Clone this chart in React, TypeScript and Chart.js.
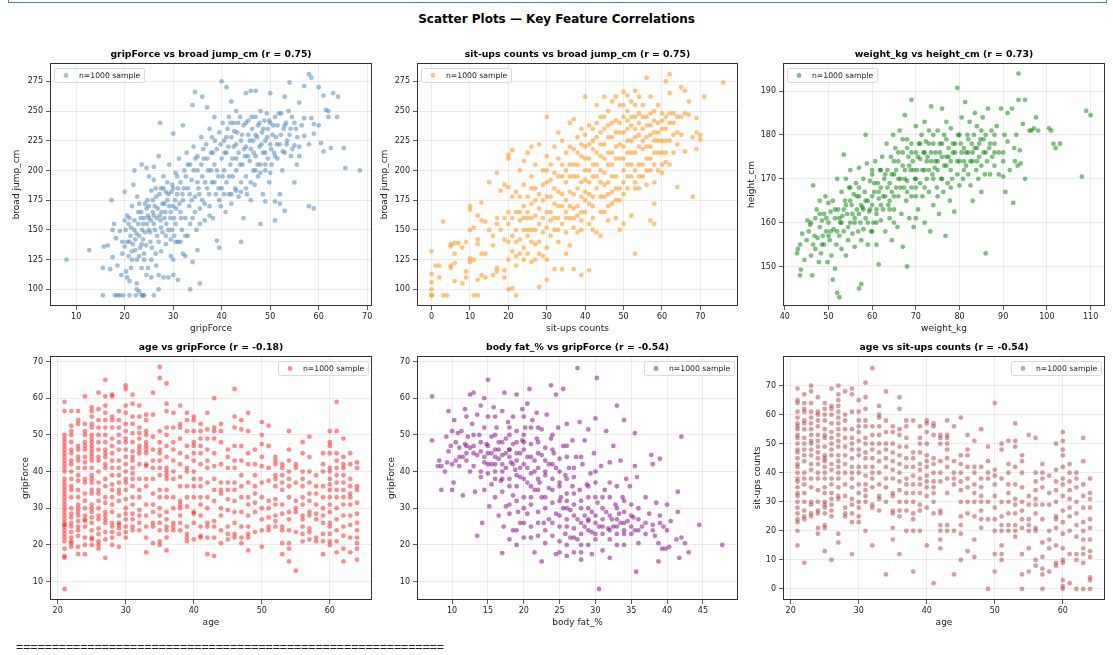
import React, { useEffect, useRef } from 'react';
import { Chart, registerables } from 'chart.js';

Chart.register(...registerables);
Chart.defaults.font.family = "'DejaVu Sans', sans-serif";

// ---- data (a sample of the 1000 points) ----

// gripForce vs broad jump_cm
const gripJump: [number, number][] = [
  [8,125],[12.7,133],[15.5,95],[15.5,118],[15.7,136],[16.5,137],[17,117],[17.3,175],[17.5,150],[17.5,127],[17.8,155],[18,95],[18.5,95],[19,95],[19.7,95],[21,95],[22.3,95],[23.5,95],[24,95],[23.8,95],[26,95],
  [18.2,143],[18.5,120],[19,149],[19.3,112],[19.5,130],[20,182],[20,158],[20,136],[20.3,115],[20.5,110],[21,107],[21.3,118],[20.8,155],[21,160],[21.2,145],[21.5,132],[21.8,188],[22,200],[22,150],[22.2,142],[22.5,105],[22.5,100],[23,98],[22.8,165],[23,128],[23,172],[23.3,160],[23.5,205],[23.5,138],[23.8,155],[24,130],[24,125],[24.2,148],[24.5,202],[24.5,168],[24.7,175],[24.8,118],
  [25,195],[25,150],[25,160],[25.3,140],[25.5,183],[25.5,110],[25.8,165],[26,192],[26,203],[26,155],[26.2,170],[26.4,130],[26.5,178],[26.7,145],[27,212],[27.3,240],[27,112],[27,100],[27.2,162],[27.5,185],[27.5,152],[27.8,172],[28,110],[28,195],[28.2,160],[28.5,138],[28.5,182],[28.8,175],[29,110],[29,150],[29.2,205],[29.5,165],[29.5,128],[29.8,188],
  [30,231],[30,112],[30,125],[30,170],[30.2,145],[30.5,198],[30.5,155],[30.8,180],[31,140],[31,108],[31.2,210],[31.5,165],[31.5,190],[31.8,150],[32,238],[32,130],[32,175],[32.3,200],[32.5,128],[32.5,160],[32.8,215],[33,185],[33,145],[33.3,170],[33.5,100],[33.5,205],[33.8,192],[34,123],[34,255],[34,160],[34.2,220],[34.5,266],[34.5,178],[34.8,150],
  [35,133],[35,200],[35,212],[35.2,185],[35.5,105],[35.5,168],[35.8,228],[36,262],[36,195],[36,175],[36.3,210],[36.5,158],[36.8,222],[37,253],[37,185],[37.2,200],[37.5,170],[37.5,235],[37.8,215],[38,190],[38,228],[38.2,160],[38.5,205],[38.5,245],[38.8,180],[39,141],[39,218],[39.3,195],[39.5,135],[39.5,232],[39.8,170],
  [40,275],[40,210],[40,185],[40.2,240],[40.5,200],[40.5,225],[40.8,165],[41,270],[41,190],[41,215],[41.2,235],[41.5,180],[41.5,245],[41.8,205],[42,258],[42,228],[42,172],[42.3,195],[42.5,220],[42.5,240],[42.8,185],[43,250],[43,210],[43,200],[43.2,232],[43.5,178],[43.5,215],[43.8,245],[44,140],[44,225],[44,190],[44.3,205],[44.5,238],[44.5,160],[44.8,212],
  [45,265],[45,220],[45,195],[45.2,180],[45.5,230],[45.5,242],[45.8,208],[46,267],[46,175],[46,218],[46.3,235],[46.5,200],[46.5,225],[46.8,188],[47,267],[47,245],[47,212],[47.3,228],[47.5,195],[47.5,238],[47.8,220],[48,155],[48,250],[48,205],[48.3,232],[48.5,215],[48.5,180],[48.8,242],[49,174],[49,225],[49,200],[49.3,248],[49.5,210],[49.5,235],[49.8,190],
  [50,265],[50,222],[50,240],[50.3,205],[50.5,230],[50.8,215],[51,158],[51,174],[51,245],[51.2,228],[51.5,210],[51.5,238],[52,172],[52,180],[52,222],[52.3,248],[52.5,200],[52.8,235],[53,262],[53,166],[53,215],[53.3,240],[53.5,225],[54,274],[54,230],[54.3,212],[54.5,245],
  [55,190],[55,221],[55.3,235],[55.5,205],[56,257],[56,212],[56.5,238],[57,271],[57,244],[57,229],[58,281],[58.5,278],[58,170],[59,168],[58.5,244],[59,231],[59,239],[58,222],[60,270],[60,238],[60.5,223],[61,216],[61,263],[61.5,251],[62,250],[62,245],[62.5,219],[63,265],[64,262],[63.8,245],[65.2,219],[65.5,202],[68.5,200],
  [19.5,140],[20.2,150],[20.5,162],[20.8,128],[21,140],[21.3,152],[21.5,170],[21.7,138],[22,158],[22.2,133],[22.4,147],[22.6,178],[22.8,155],[23,145],[23.2,135],[23.4,165],[23.6,150],[23.8,142],[24,160],[24.2,172],[24.4,137],[24.6,155],[24.8,162],[25,170],[25.2,148],[25.4,158],[25.6,135],[25.8,175],
  [26,162],[26.2,150],[26.4,185],[26.6,160],[26.8,168],[27,140],[27.2,180],[27.4,158],[27.6,165],[27.8,148],[28,185],[28.2,172],[28.4,165],[28.6,155],[28.8,190],[29,180],[29.2,170],[29.4,160],[29.6,182],[29.8,150],[30,185],[30.2,160],[30.4,175],[30.6,168],[30.8,195],[31,185],[31.3,172],[31.6,160],[31.9,180],
  [32.2,185],[32.6,195],[33,205],[33.4,180],[33.8,175],[34.2,200],[34.6,210],[35,190],[35.4,180],[35.8,205],[36.2,218],[36.6,190],[37,210],[37.4,180],[37.8,200],[38.2,215],[38.6,225],[39,200],[39.4,185],[39.8,222],[40.2,195],[40.6,215],[41,228],
  [41.4,220],[41.8,240],[42.2,210],[42.6,233],[43,222],[43.4,240],[43.8,205],[44.2,230],[44.6,218],[45,240],[45.4,212],[45.8,225],[46.2,245],[46.6,215],[47,230],[47.4,205],[47.8,240],[48.2,222],[48.6,235],[49,215],[49.4,228],[49.8,242],[50.2,218],[50.6,238],[51,212],[51.4,222],[51.8,248],[52.2,230],
  [52.6,216],[53,238],[53.4,222],[53.8,250],[54.2,235],[54.6,218],[55,240],[55.6,228],[56,220],[45,185],[44,182],[43,183],[42,180],[46,190],[47,200],[48,198],[49,205],[50,198],[41.5,195],[40.5,180],[39.5,175],[38.5,190],[37.5,162],[36.5,172],[35.5,155],[34.5,165],[33.5,155],[32.5,145],
  [31.5,140],[30.5,140],[29.5,142],[28.5,145],[27.5,132],[26.5,120],[25.5,125],[24.5,112],[23.5,118],[22.5,125],[21.5,125],[20.5,140],
];

// sit-ups counts vs broad jump_cm
const situpsJump: [number, number][] = [
  [0,95],[0,95],[0,100],[0,106],[0,113],[0,132],[1,120],[2,120],[2,110],[3,157],[3,95],[4,95],[5,136],[5,138],[5,118],[5,120],[6,139],[6,130],[6,122],[6,107],[7,139],[8,105],[8,135],[9,110],[9,115],[9,140],[10,170],[10,167],[10,150],[10,126],[10,123],
  [11,152],[11,125],[11,95],[12,95],[12,142],[12,138],[12,108],[12,162],[13,173],[13,158],[13,130],[13,112],[14,157],[14,110],[15,190],[15,150],[16,137],[16,112],[17,198],[17,160],[17,155],[17,118],[17,115],[18,183],[19,188],[19,142],[19,116],[19,110],
  [20,210],[20,213],[20,186],[20,155],[20,140],[20,125],[20,100],[21,217],[21,178],[21,160],[21,132],[21,101],[22,182],[22,150],[22,128],[22,120],[22,95],[23,200],[23,165],[23,142],[23,158],[24,208],[24,188],[24,170],[24,135],[24,125],[25,215],[25,178],[25,160],[25,145],[25,130],
  [26,220],[26,195],[26,172],[26,150],[26,123],[27,205],[27,185],[27,162],[27,138],[27,125],[28,222],[28,180],[28,155],[28,102],[29,200],[29,175],[29,148],[29,128],[30,245],[30,212],[30,190],[30,165],[30,152],[30,135],[30,108],[31,205],[31,178],[31,158],
  [32,220],[32,198],[32,172],[32,150],[32,117],[33,232],[33,210],[33,182],[33,160],[33,140],[34,225],[34,195],[34,170],[34,155],[34,117],[35,215],[35,190],[35,175],[35,148],[35,130],[36,240],[36,205],[36,182],[36,160],[36,137],[37,243],[37,218],[37,195],[37,168],[37,152],[37,117],
  [38,228],[38,205],[38,185],[38,162],[38,148],[39,235],[39,212],[39,178],[39,158],[39,112],[40,262],[40,220],[40,200],[40,182],[40,165],[41,238],[41,210],[41,190],[41,172],[41,155],[41,116],[42,235],[42,218],[42,195],[42,170],[42,160],[43,255],[43,228],[43,205],[43,185],[43,148],
  [44,245],[44,222],[44,200],[44,178],[44,145],[45,262],[45,235],[45,210],[45,188],[45,165],[46,250],[46,228],[46,205],[46,180],[46,158],[47,258],[47,240],[47,215],[47,195],[47,172],[48,262],[48,232],[48,210],[48,185],[48,160],[49,255],[49,240],[49,222],[49,150],[49,175],
  [50,266],[50,245],[50,220],[50,200],[50,180],[50,155],[51,263],[51,242],[51,225],[51,205],[51,185],[52,258],[52,238],[52,215],[52,195],[52,162],[53,267],[53,245],[53,228],[53,200],[53,185],[53,130],[54,262],[54,240],[54,220],[54,205],[54,185],[55,255],[55,235],[55,218],[55,195],
  [56,278],[56,245],[56,228],[56,210],[56,188],[57,262],[57,238],[57,220],[57,200],[57,158],[58,250],[58,232],[58,215],[58,190],[58,155],[58,172],[59,255],[59,240],[59,225],[59,200],[60,248],[60,235],[60,215],[60,198],[61,275],[61,245],[61,225],[61,207],[62,281],[62,265],[62,240],[62,205],
  [63,248],[63,230],[63,215],[64,245],[64,186],[64,222],[65,270],[65,245],[65,230],[66,267],[66,216],[66,248],[67,258],[67,247],[68,178],[68,228],[69,244],[69,218],[69,232],[70,230],[70,226],[71,262],[76,274],
  [22,165],[23,178],[24,150],[25,165],[26,185],[27,150],[27,175],[28,140],[28,168],[29,160],[29,188],[30,178],[30,200],[31,165],[31,192],[32,160],[32,185],[33,170],[33,195],[34,180],[34,205],[35,160],[35,200],[36,170],[36,195],[36,220],[37,180],[37,205],[38,170],[38,195],[38,215],
  [39,165],[39,190],[39,222],[40,175],[40,192],[40,210],[40,230],[41,180],[41,200],[41,222],[42,178],[42,205],[42,225],[43,195],[43,215],[43,240],[44,190],[44,212],[44,232],[45,178],[45,198],[45,222],[45,245],[46,190],[46,215],[46,238],[47,182],[47,205],[47,228],[48,195],[48,220],[48,242],
  [49,185],[49,210],[49,232],[50,190],[50,210],[50,232],[50,255],[51,195],[51,215],[51,235],[51,250],[52,205],[52,225],[52,245],[53,190],[53,215],[53,235],[53,255],[54,195],[54,230],[54,248],[55,205],[55,225],[55,245],[56,200],[56,220],[56,238],[57,210],[57,230],[57,248],[58,205],[58,225],
  [58,242],[59,215],[59,232],[60,205],[60,225],[60,242],[61,215],[61,235],[62,225],[62,248],[63,240],[64,232],[26,160],[25,150],[24,160],[23,130],[22,140],[21,145],[20,165],[19,160],[18,150],[16,145],[14,130],[44,165],[42,150],[46,170],[48,175],[39,150],[37,160],[35,165],[33,150],
  [31,145],[30,125],[28,130],[26,140],
];

// weight_kg vs height_cm
const weightHeight: [number, number][] = [
  [42.8,153],[43,154],[43.5,155],[43.5,148],[43.7,149.3],[44,157.5],[44.5,151.5],[45,156],[45.2,160.5],[45.5,158],[45.8,159.5],[46,152.5],[46.3,148],[46.5,168.5],[46.5,155],[46.8,157],[47,154],[47,161],[47.3,163],[47.5,156.5],[47.8,151],[48,165],[48,159],[48.3,153],[48.5,160.5],[48.7,157],[49,162],[49,155],[49.3,166],[49.5,158],[49.8,151],
  [50,164.5],[50,160],[50.3,156],[50.5,162.5],[50.7,152.5],[51,147],[51,165],[51.2,158.5],[51.5,161],[51.5,149.5],[51.8,155],[52,144],[52.5,143],[52,170],[52.2,163],[52.5,157],[52.7,160],[53,167],[53,154],[53.2,161.5],[53.5,175.5],[53.5,158],[53.8,165],[54,170],[54,152.5],[54.3,162],[54.5,156],[54.7,168],
  [55,160],[55,172],[55.3,164],[55.5,157.5],[55.8,166.5],[56,161],[56,154.5],[56.3,169],[56.5,163],[56.8,158],[57,145],[57.5,146],[57,172.5],[57,166],[57.3,160],[57.5,156],[57.8,163.5],[58,170],[58,158.5],[58.3,167],[58.5,180],[58.5,161],[58.8,173.5],[59,165],[59,155],[59.3,162.5],[59.5,169.5],[59.8,158],
  [60,171],[60,164],[60.3,160],[60.5,167],[60.7,174],[61,162],[61,155],[61.3,169],[61.5,150.5],[61.5,165.5],[61.8,172],[62,160.5],[62,168],[62.3,175],[62.5,163],[62.8,170],[63,166],[63,158],[63.3,178],[63.5,172],[63.7,164],[64,169],[64,161],[64.3,175],[64.5,156],[64.5,167],[64.8,180],
  [65,171],[65,163],[65.3,177],[65.5,168],[65.8,159],[66,174],[66,166],[66.3,181],[66.5,170],[66.7,162],[67,176],[67,154.5],[67.3,168],[67.5,184.5],[67.5,172],[67.8,165],[68,150],[68,179],[68,169.5],[68.3,175],[68.5,161],[68.8,172],[69,188],[69,178],[69,166],[69.3,174],[69.5,159],[69.8,170],
  [70,182],[70,176],[70,168],[70.3,172],[70.5,163],[70.7,178],[71,174.5],[71,169],[71.3,180],[71.5,166],[71.8,176],[72,172],[72,160],[72.3,178.5],[72.5,170],[72.7,175],[73,167],[73,181],[73.3,158],[73.5,186.5],[73.5,174],[73.8,171],[74,178],[74,164],[74.3,172.5],[74.5,176],[74.8,168],
  [75,181],[75,174],[75.3,162],[75.5,178],[75.8,170],[76,186],[76,175],[76.3,167],[76.5,180],[76.8,157],[77,173],[77,183],[77.3,169],[77.5,177],[77.8,165],[78,181.5],[78,174],[78.3,170],[78.5,178],[78.8,162.5],[79,176],[79.5,190.7],[79.5,171],[79.7,180],
  [80,168.5],[80,174],[80.3,178],[80.5,184],[80.8,170],[81,177],[81.3,187.5],[81.5,173],[81.8,180],[82,171],[82,176],[82.3,183],[82.5,168.5],[82.8,178],[83,165],[83,174],[83.3,180],[83.5,185],[83.8,172],[84,177],[84,182],[84.3,170],[84.5,175],[84.8,179],
  [85,167],[85,173],[85.3,184],[85.5,176],[85.8,171],[86,153],[86,180],[86.3,174],[86.5,186],[86.8,177],[87,171],[87.3,181],[87.5,175],[88,178],[88,173],[88.5,182],[89,176],[89,171],[89.5,186],[90,174],[90,170.5],[90.3,180],[90.5,167],[91,178.5],[91,185],[91.5,172],[92,186],[92.3,164.5],[92.5,177],[92.7,174],
  [93,180],[93.3,173],[93.5,194],[93.5,188],[93.8,176.5],[94,173.5],[94.5,182.5],[95,188],[95,170],[96,181],[96.5,181],[97,181.5],[97.5,184],[98,181],[100.5,181.5],[101,181],[101.5,178],[102,177],[103,178],[108,170.5],[109,185.5],[110,184.5],
  [48.5,155],[49.5,161],[50.5,158],[51.5,163],[52.5,161],[53.5,163],[54.5,159],[55.5,162],[56.5,166],[57.5,164],[58.5,165],[59.5,163],[60.5,169],[61.5,167],[62.5,166],[63.5,168],[64.5,171],[65.5,172],[66.5,168],[67.5,170],[68.5,173],[69.5,172],[70.5,175],[71.5,172],[72.5,174],
  [73.5,176],[74.5,174],[75.5,176],[76.5,173],[77.5,175],[78.5,176],[79.5,174],[80.5,176],[81.5,176],[82.5,174],[83.5,177],[84.5,178],[85.5,179],[60,166],[62,164],[64,165],[66,170],[68,167],[70,170],[72,176],[74,170],[76,178],[78,172],[80,180],[82,179],[84,174],[86,176],[88,176],
  [55,165],[57,168],[59,160],[61,160],[63,171],[65,174],[67,173],[69,176],[71,178],[73,178],[75,172],[77,179],[79,178],[81,174],[83,176],[85,181],[87,178],[58,163],[60,158],[62,172],[64,163],[66,176],[68,177],[70,166],[72,168],[74,180],[76,170],[78,168],[52,158],[54,164],[56,160],
  [50,157],[48,162],[46,160],[53,160],[57,162],[61,163],[65,166],[69,168],[73,172],[77,175],[81,172],[65,160],[70,161],[75,166],[60,172],[55,168],[67,179],[72,183],[90,176],[88,180],
];

// age vs gripForce: age -> gripForce values at that age
const ageGrip: [number, number[]][] = [
  [21, [8,16.5,17,19,21,22,23,24,25,25.5,26,27,28,29,30,31,32,33,34,35,36,37,38,40,41,42,43,44,45,46,47,48,49,50,56.5,59]],
  [22, [19.5,20.5,21,22,23.5,25,26,27.5,28.5,30,33,35,36,38,40,42,43,45,46,48,50,51,52.5,56.5]],
  [23, [17.5,19.5,22.5,24,25,26.5,28,29,30,31,33,35,37.5,39,41,43,44,46,47,53,54,56.5]],
  [24, [17.5,20,22,25,26.5,27,28,30,32,34,37,38,41,42.5,44,46,47,48,50,51,53,60.5]],
  [25, [20,21.5,22,24,26,27.5,29,30,31,34,35,37,38,39,41,43,44,45,46,47,48,49,50,52,53,55,56.5,57.5]],
  [26, [19,20,21,23,24.5,27,28,30,32,34,35,37,40,43,44,46,48,50,52,54,57,61.5]],
  [27, [16.5,21.5,23.5,26,27,28,29,31.5,33,36,38,41,42,44,45,46,48,50,52,54,56,58,60.5,65]],
  [28, [20,22,23.5,25,26,29,31,33,35,36.5,39,41,43,45,47,49,52,54,55,60.5,61]],
  [29, [19.5,23,24.5,25.5,26,28,32,34,35,37,39,41,43,46,48,50,52,54,56.5]],
  [30, [22,23.5,25,27,28.5,30,32.5,35,37,38,40,42,44,46,48,49,51,53,56,58,62.5,63.5]],
  [31, [24,25,27,28.5,31,33,36,38,39.5,41,43,44,45.5,48,50.5,53,55,58.5,61]],
  [32, [24,26,28,29.5,33,35,38,42,45,46,47,49,50.5,52,55,58]],
  [33, [18,22,25,28,31,36,38,41.5,42,45,46,47,48,50,51,54,55.5]],
  [34, [20.5,25,26,29,31,34,38,41,43,46,49.5,55.5,61.5]],
  [35, [20,21,24,26,28,30,33,35,39,41,43,45,46,48,51,65.5,68.5]],
  [36, [18.5,22,24,25,27,29,33,35,38,39,40,41,44,47,50,52,56.5,58.5,64]],
  [37, [24,25,26,30,33,38,40,43,46,48,52,56]],
  [38, [24,26,28,30,31,32,36,38.5,42,45,49,52,53,58]],
  [39, [21,22,23,25,30.5,33,36,40,41,44,47,51,54,56]],
  [40, [21.5,26,28.5,29,33,36,38,40,43,45,47,48,51,54,55]],
  [41, [22,22.5,25,28,31,33,36,38,42,45,47,49,51,53]],
  [42, [17.5,22,25,26,30,33,37,41,43,46,49,51.5,56]],
  [43, [17,22,25,26.5,32,35,38,41.5,45,49,51,52,60]],
  [44, [20.5,24,28,30,34,35,37,42,48,51,53]],
  [45, [21.5,23,25,29.5,32.5,35,37,41,44,46]],
  [46, [22,23,26,29,32,35,37,41,43,47,52,55,62.5]],
  [47, [20.5,22,25,29,33,36,39,43,47,51.5,54]],
  [48, [18.5,22,23,25,28,31,33,37,42,45,51,56]],
  [49, [23.5,29,31.5,34,36,39,42,46]],
  [50, [19.5,24,27,30,33,37,41.5,44,47.5,50,53.5]],
  [51, [24,25,27.5,30,32,37.5,41,47,52.5]],
  [52, [25,26.5,28,31,32.5,36,38,39,42,43,44]],
  [53, [17.5,20.5,24,25,28.5,31,35,37,39,41,42]],
  [54, [15.5,19,20.5,24,27,29,33,36,38,40,43,46,51]],
  [55, [13,23.5,29,30,32,37,41,42]],
  [56, [21,23,25,27,28,31,33,36,38,40,45,48]],
  [57, [21.5,23.5,24.5,28,29,32,34,37,40,44,49.5]],
  [58, [21,22,27,28.5,31,34,36,39]],
  [59, [17.5,21,23,26,28,30,33,36,40,42,45]],
  [60, [20,21,23,25,26,29,31,33,35,36.5,38,40,41,45,47,48,51]],
  [61, [18,21,24,27,30,33,35,37,39,41,43,45,51,59]],
  [62, [15.5,19,22.5,25,28,31,33,35,37,39,41,42,44,49]],
  [63, [18,22,25.5,28,31,33,34,36,38,42,45]],
  [64, [16,19,20.5,22,24,26,28.5,31.5,35,36,41,42.5]],
];

// body fat_% vs gripForce
const fatGrip: [number, number][] = [
  [7.2,60.5],[7.2,48.5],[8,41.5],[8.2,43],[8.5,41.5],[8.5,35],[9,40],[9.2,49.5],[9.3,42.5],[9.5,56.5],[9.5,45.5],[9.8,47],[10,51],[10,42],[10,35],[10.2,37],[10.3,54],[10.5,48],[10.5,43],[10.8,50.5],[11,46.5],[11,41.5],[11.3,51],[11.5,44],[11.5,33.5],[11.8,57],[11.8,47.5],
  [12,55],[12,43],[12.2,49.5],[12.5,61],[12.5,46.5],[12.5,40],[12.8,53],[13,61.5],[13,47],[13,41.5],[13.2,34.5],[13.5,22.5],[13.5,55.5],[13.5,44.5],[13.8,50],[14,58],[14,45.5],[14,38.5],[14.2,26],[14.5,60],[14.5,52],[14.5,42.5],[14.5,35],[14.8,47.5],
  [15,65],[15,55],[15,45],[15,39.5],[15.2,30.5],[15.5,49.5],[15.5,42],[15.5,36.5],[15.8,57.5],[16,46],[16,40],[16,33],[16.2,52],[16.5,43.5],[16.5,28],[16.5,48],[16.8,37.5],[17,56.5],[17,44.5],[17,34.5],[17,17.8],[17.2,25],[17.3,61.5],[17.5,41],[17.5,49],[17.5,30.5],[17.8,53.5],
  [18,46],[18,38],[18,28.5],[18,21.5],[18.2,42.5],[18.5,55],[18.5,47.5],[18.5,33.5],[18.5,24],[18.8,40.5],[19,61],[19,51],[19,43],[19,36],[19,20],[19.2,29],[19.5,45],[19.5,38.5],[19.5,26],[19.8,57],[19.8,48.5],
  [20,42],[20,33],[20,22],[20.2,52],[20.5,58.5],[20.5,44],[20.5,37],[20.5,28.5],[20.8,62.5],[21,47.5],[21,39.5],[21,31],[21,25],[21.2,54],[21.5,43],[21.5,35],[21.5,18],[21.8,56],[21.8,49],[22,41],[22,29],[22,22.5],[22.2,37],[22.5,51.5],[22.5,44.5],[22.5,33],[22.5,15.5],[22.8,26],
  [23,46.5],[23,39],[23,30],[23,20.5],[23.2,55.5],[23.5,42],[23.5,35.5],[23.5,27],[23.8,63.5],[23.8,49],[24,38],[24,31.5],[24,22.5],[24.2,45],[24.5,61],[24.5,41],[24.5,28.5],[24.5,17.5],[24.8,52],
  [25,43.5],[25,36],[25,25],[25,21],[25.2,33],[25.5,62.5],[25.5,47],[25.5,30],[25.8,39],[25.8,23],[26,53],[26,44],[26,34],[26,27],[26,17],[26.3,41],[26.5,29.5],[26.5,22],[26.8,48.5],[26.8,36],
  [27,38.5],[27,31],[27,24.5],[27,18],[27.3,44],[27.5,68.2],[27.5,27],[27.5,21.5],[27.8,53.5],[27.8,35],[28,30],[28,23],[28,16],[28.2,42],[28.5,48.5],[28.5,28],[28.5,25],[28.8,36.5],[29,51.5],[29,33],[29,26.5],[29,20],[29.3,39.5],[29.5,29],[29.5,23.5],[29.5,17.5],[29.8,45],
  [30,54.5],[30,37],[30,28],[30,21.5],[30.2,65.5],[30.3,31.5],[30.5,25],[30.5,8],[30.8,41.5],[31,27],[31,23],[31,18.5],[31.3,35],[31.5,51],[31.5,29],[31.8,24.5],[32,42.5],[32,33],[32,21.5],[32,16.5],[32.3,27],[32.5,47],[32.5,25],[32.8,31],
  [33,58],[33,36],[33,23],[33,20],[33.3,28.5],[33.5,43],[33.5,26],[33.8,33],[34,54],[34,29],[34,24],[34,20],[34.3,38],[34.5,26.5],[34.8,36],[35,31],[35,23],[35.3,27.5],[35.5,50.5],[35.5,41.5],[35.5,24],[35.7,12.7],[35.8,38.5],[36,27],[36,20.5],[36.5,25],
  [37,23],[37,33],[37.5,28.5],[37.8,44.5],[38,42],[38,25.5],[38.3,22.5],[38.5,31.5],[38.8,15.5],[38.8,20.5],[39,43.5],[39,26],[39.3,19],[39.5,25],[39.8,19],[40,31],[40.3,19.5],[40.5,26.5],[41.3,21.5],[41.5,34.5],[41.5,29],[41.7,16.5],[42,49.5],[42,22],[42.5,20.5],[43,18],[44.5,25.5],[47.7,20],
  [14,48],[14.5,44],[15,47],[15.5,45],[16,44],[16.5,46],[17,42],[17.5,45],[18,44],[18.5,42],[19,45],[19.5,41],[20,46],[20.5,41],[21,44],[21.5,40],[22,45],[16,50],[17,48],[18,50],[19,48],[20,50],[21,52],[15,42],[16,38],[17,40],[18,36],[19,39],[20,38],[21,36],[22,38],[23,40],[24,42],
  [25,40],[26,38],[24,35],[25,32],[26,30],[27,28],[28,26],[29,24],[30,26],[31,25],[32,24],[33,25],[34,23],[26,25],[27,22],[28,20],[29,27],[30,23],[31,30],[32,28],[33,27],[34,26],[35,25],[25,28],[26,32],[27,34],[28,32],[29,30],[30,33],[23,33],[22,35],[21,33],[20,30],[19,32],[18,31],
  [17,38],[13,45],[12,47],[11,44],[12,45],[13,50],[14,40],[16,55],[18,52],[20,55],[22,48],[24,46],[23,43],[25,37],[27,41],[29,36],[31,33],[33,30],[35,28],[36,24],[37,26],[38,24],[39,28],[40,24],[36,30],[24,26],[26,20],[28,18],[25,18],[23,24],[22,26],[21,22],[20,26],[19,24],
  [34,32],[32,37],[30,40],[28,44],[26,47],[24,50],[22,52],[20,48],[18,46],[16,42],
];

// age vs sit-ups counts: age -> sit-ups values at that age
const ageSitups: [number, number[]][] = [
  [21, [15,20,23,24,26,28,30,32,33,35,37,38,40,42,43,45,47,48,50,52,53,55,56,57,59,61,64,65,69]],
  [22, [9,24,25,27,30,33,36,38,40,44,46,48,50,52,55,57,58,61,62,64,67]],
  [23, [25,26,29,30,35,38,41,43,46,48,50,51,53,55,57,59,61,64,68,70]],
  [24, [19,21,26,27,30,34,38,40,43,45,47,49,51,53,56,58,60,61,66]],
  [25, [13,21,22,26,28,29,30,33,35,38,40,42,44,45,46,49,52,53,55,58,60,62,64]],
  [26, [10,25,27,29,31,33,36,38,41,43,46,48,50,52,54,57,60,62,63,69]],
  [27, [16,19,31,32,35,38,40,42,44,46,49,51,53,55,57,59,61,63,65,67,70]],
  [28, [25,26,28,32,36,40,43,46,49,52,55,58,60,68]],
  [29, [12,23,26,29,31,35,38,40,42,45,48,50,52,55,61,67,69]],
  [30, [23,25,28,30,33,36,40,42,46,48,51,54,56,58,61,65]],
  [31, [20,30,32,34,36,39,42,45,47,50,52,56,58,62,66,71]],
  [32, [15,28,29,35,38,40,42,45,48,50,53,56,76]],
  [33, [27,31,32,36,40,44,47,50,53,56,59,60,63]],
  [34, [5,30,35,38,42,45,48,50,54,58,68]],
  [35, [17,21,26,27,32,33,38,41,44,47,50,54,56]],
  [36, [12,25,27,30,34,37,40,43,46,49,53,55,62,66]],
  [37, [20,27,30,33,36,38,42,45,49,52,56,58]],
  [38, [6,20,24,26,30,33,36,39,42,45,47,58]],
  [39, [20,27,29,33,36,38,41,43,47,50,52,56]],
  [40, [15,28,32,35,37,39,42,44,46,50,54,57,58]],
  [41, [2,26,30,33,35,37,40,43,45,53,56,57]],
  [42, [14,17,20,22,26,27,37,40,44,50,52,53]],
  [43, [20,22,33,38,42,45,48,50,52,53,58]],
  [44, [5,20,36,38,40,44,56]],
  [45, [10,19,22,25,30,34,37,40,43,46,59]],
  [46, [13,26,30,35,38,42,46,48,53]],
  [47, [11,17,25,30,33,36,40,42,51]],
  [48, [21,24,27,30,32,35,38,42,55]],
  [49, [0,24,30,38,40,44,49]],
  [50, [6,12,20,24,28,32,36,39,41,64]],
  [51, [10,12,15,20,22,25,30,38,48,50]],
  [52, [20,22,26,30,33,36,40,43,51]],
  [53, [18,20,22,26,29,31,36,42,49,51,57]],
  [54, [0,5,12,21,24,27,30,35,40,44,46]],
  [55, [6,14,20,22,24,29,32,53]],
  [56, [8,10,20,21,26,29,31,34,37,40,52]],
  [57, [0,5,7,11,16,24,29,35,38,40,43]],
  [58, [6,14,17,20,29,33,39]],
  [59, [8,9,15,21,24,25,30,34,37,41,50]],
  [60, [0,1,3,9,10,14,19,23,27,32,36,38,42,46,48,51,54]],
  [61, [2,12,20,25,28,31,34,37,40,43]],
  [62, [0,10,12,18,22,26,30,35,38,40]],
  [63, [0,9,12,14,17,20,23,28,32,36,44,52]],
  [64, [0,3,4,11,13,17,21,24,28,31,33,38]],
];

// tick values
const gripTicks = [10, 20, 30, 40, 50, 60, 70];
const jumpTicks = [100, 125, 150, 175, 200, 225, 250, 275];
const situpsTicks = [0, 10, 20, 30, 40, 50, 60, 70];
const weightTicks = [40, 50, 60, 70, 80, 90, 100, 110];
const heightTicks = [150, 160, 170, 180, 190];
const ageTicks = [20, 30, 40, 50, 60];
const fatTicks = [10, 15, 20, 25, 30, 35, 40, 45];

const legendText = 'n=1000 sample';

const pairs = (pts: [number, number][]) => pts.map(([x, y]) => ({ x, y }));
const columns = (cols: [number, number[]][]) =>
  cols.flatMap(([x, ys]) => ys.map((y) => ({ x, y })));

type Panel = {
  title: string;
  xLabel: string;
  yLabel: string;
  points: { x: number; y: number }[];
  color: string;
  xRange: [number, number];
  yRange: [number, number];
  xTicks: number[];
  yTicks: number[];
  legendRight: boolean;
  box: { left: number; top: number; width: number; height: number };
  yLabelGap: number;
};

const Y_AXIS_W = 48;
const TITLE_H = 24;
const X_AXIS_H = 34;
const RIGHT_PAD = 3;

const panels: Panel[] = [
  {
    title: 'gripForce vs broad jump_cm (r = 0.75)', xLabel: 'gripForce', yLabel: 'broad jump_cm',
    points: pairs(gripJump), color: 'rgba(70,130,180,0.5)',
    xRange: [4.6, 71.0], yRange: [86, 290.4], xTicks: gripTicks, yTicks: jumpTicks,
    legendRight: false, box: { left: 50, top: 63, width: 322, height: 243 }, yLabelGap: 33,
  },
  {
    title: 'sit-ups counts vs broad jump_cm (r = 0.75)', xLabel: 'sit-ups counts', yLabel: 'broad jump_cm',
    points: pairs(situpsJump), color: 'rgba(255,140,0,0.5)',
    xRange: [-3.8, 79.8], yRange: [86, 290.4], xTicks: situpsTicks, yTicks: jumpTicks,
    legendRight: false, box: { left: 417, top: 63, width: 321, height: 243 }, yLabelGap: 32,
  },
  {
    title: 'weight_kg vs height_cm (r = 0.73)', xLabel: 'weight_kg', yLabel: 'height_cm',
    points: pairs(weightHeight), color: 'rgba(0,128,0,0.5)',
    xRange: [39.6, 113.3], yRange: [141, 196.4], xTicks: weightTicks, yTicks: heightTicks,
    legendRight: false, box: { left: 783, top: 63, width: 322, height: 243 }, yLabelGap: 31,
  },
  {
    title: 'age vs gripForce (r = -0.18)', xLabel: 'age', yLabel: 'gripForce',
    points: columns(ageGrip), color: 'rgba(255,0,0,0.45)',
    xRange: [18.87, 66.2], yRange: [5, 71.5], xTicks: ageTicks, yTicks: gripTicks,
    legendRight: true, box: { left: 50, top: 356, width: 322, height: 244 }, yLabelGap: 24,
  },
  {
    title: 'body fat_% vs gripForce (r = -0.54)', xLabel: 'body fat_%', yLabel: 'gripForce',
    points: pairs(fatGrip), color: 'rgba(128,0,128,0.5)',
    xRange: [5.1, 49.9], yRange: [5, 71.5], xTicks: fatTicks, yTicks: gripTicks,
    legendRight: true, box: { left: 417, top: 356, width: 321, height: 244 }, yLabelGap: 25,
  },
  {
    title: 'age vs sit-ups counts (r = -0.54)', xLabel: 'age', yLabel: 'sit-ups counts',
    points: columns(ageSitups), color: 'rgba(165,42,42,0.45)',
    xRange: [18.87, 66.2], yRange: [-3.8, 80.2], xTicks: ageTicks, yTicks: situpsTicks,
    legendRight: true, box: { left: 783, top: 356, width: 322, height: 244 }, yLabelGap: 25,
  },
];

// frame round the plot area and an in-axes legend, matplotlib style
const framePlugin = {
  id: 'frameAndLegend',
  afterDatasetsDraw(chart: any, _args: any, opts: any) {
    const { ctx, chartArea: a } = chart;
    ctx.save();
    const w = 90, h = 14;
    const lx = opts.right ? a.right - 4 - w : a.left + 4;
    const ly = a.top + 5;
    ctx.fillStyle = 'rgba(255,255,255,0.85)';
    ctx.strokeStyle = '#d0d0d0';
    ctx.lineWidth = 0.8;
    ctx.beginPath();
    ctx.roundRect(lx + 0.5, ly + 0.5, w, h, 2);
    ctx.fill();
    ctx.stroke();
    ctx.fillStyle = opts.color;
    ctx.beginPath();
    ctx.arc(lx + 12, ly + 7.5, 2.4, 0, Math.PI * 2);
    ctx.fill();
    ctx.fillStyle = '#222';
    ctx.font = "7.7px 'DejaVu Sans'";
    ctx.textBaseline = 'middle';
    ctx.textAlign = 'left';
    ctx.fillText(legendText, lx + 25, ly + 8);
    ctx.strokeStyle = '#333';
    ctx.lineWidth = 1;
    ctx.strokeRect(Math.round(a.left) + 0.5, Math.round(a.top) + 0.5, a.right - a.left - 1, a.bottom - a.top - 1);
    ctx.restore();
  },
};

function ScatterPanel({ p }: { p: Panel }) {
  const ref = useRef<HTMLCanvasElement>(null);
  const width = p.box.width + Y_AXIS_W + RIGHT_PAD;
  const height = p.box.height + TITLE_H + X_AXIS_H;

  useEffect(() => {
    if (!ref.current) return;
    const grid = {
      color: 'rgba(176,176,176,0.3)',
      lineWidth: 0.8,
      tickLength: 4,
      tickColor: '#333',
      tickWidth: 0.8,
    };
    const chart = new Chart(ref.current, {
      type: 'scatter',
      data: {
        datasets: [{
          label: legendText,
          data: p.points,
          backgroundColor: p.color,
          borderWidth: 0,
          pointRadius: 2.4,
          pointHoverRadius: 2.4,
        }],
      },
      options: {
        animation: false,
        responsive: false,
        events: [],
        layout: { padding: { left: 0, right: RIGHT_PAD, top: 0, bottom: 0 } },
        plugins: {
          legend: { display: false },
          tooltip: { enabled: false },
          title: {
            display: true,
            text: p.title,
            color: '#000',
            fullSize: false,
            font: { size: 9.3, weight: 'bold', lineHeight: '12px' },
            padding: { top: 10, bottom: 2 },
          },
          frameAndLegend: { right: p.legendRight, color: p.color },
        } as any,
        scales: {
          x: {
            type: 'linear',
            min: p.xRange[0],
            max: p.xRange[1],
            afterBuildTicks: (s: any) => { s.ticks = p.xTicks.map((v) => ({ value: v })); },
            afterFit: (s: any) => { s.height = X_AXIS_H; },
            ticks: { color: '#222', font: { size: 8 }, padding: 2, maxRotation: 0 },
            grid,
            border: { display: false },
            title: { display: true, text: p.xLabel, color: '#222', font: { size: 9 }, padding: { top: 0, bottom: 6 } },
          },
          y: {
            type: 'linear',
            min: p.yRange[0],
            max: p.yRange[1],
            afterBuildTicks: (s: any) => { s.ticks = p.yTicks.map((v) => ({ value: v })); },
            afterFit: (s: any) => { s.width = Y_AXIS_W; },
            ticks: { color: '#222', font: { size: 8 }, padding: 3 },
            grid,
            border: { display: false },
            title: {
              display: true, text: p.yLabel, color: '#222', font: { size: 9 },
              padding: { top: Y_AXIS_W - p.yLabelGap - 5.4, bottom: 0 },
            },
          },
        },
      },
      plugins: [framePlugin],
    });
    return () => chart.destroy();
  }, [p]);

  return (
    <canvas
      ref={ref}
      width={width}
      height={height}
      style={{
        position: 'absolute',
        left: p.box.left - Y_AXIS_W,
        top: p.box.top - TITLE_H,
        width,
        height,
      }}
    />
  );
}

export default function App() {
  return (
    <div style={{ position: 'absolute', left: 0, top: 0, width: 1113, height: 655, background: '#fff', overflow: 'hidden' }}>
      <div
        style={{
          position: 'absolute', left: 8, top: -12, width: 1099, height: 15,
          boxSizing: 'border-box', border: '1.5px solid #3f86cc', borderTop: 'none',
        }}
      />
      <div
        style={{
          position: 'absolute', left: 0, top: 11, width: 1113, textAlign: 'center',
          fontFamily: "'DejaVu Sans', sans-serif", fontWeight: 'bold', fontSize: 12, lineHeight: '16px', color: '#000',
        }}
      >
        Scatter Plots — Key Feature Correlations
      </div>
      {panels.map((p) => (
        <ScatterPanel key={p.title} p={p} />
      ))}
      <div
        style={{
          position: 'absolute', left: 16, top: 639, fontFamily: "'DejaVu Sans Mono', monospace",
          fontSize: 11.85, lineHeight: '16px', color: '#222', whiteSpace: 'pre',
        }}
      >
        {'='.repeat(60)}
      </div>
    </div>
  );
}
